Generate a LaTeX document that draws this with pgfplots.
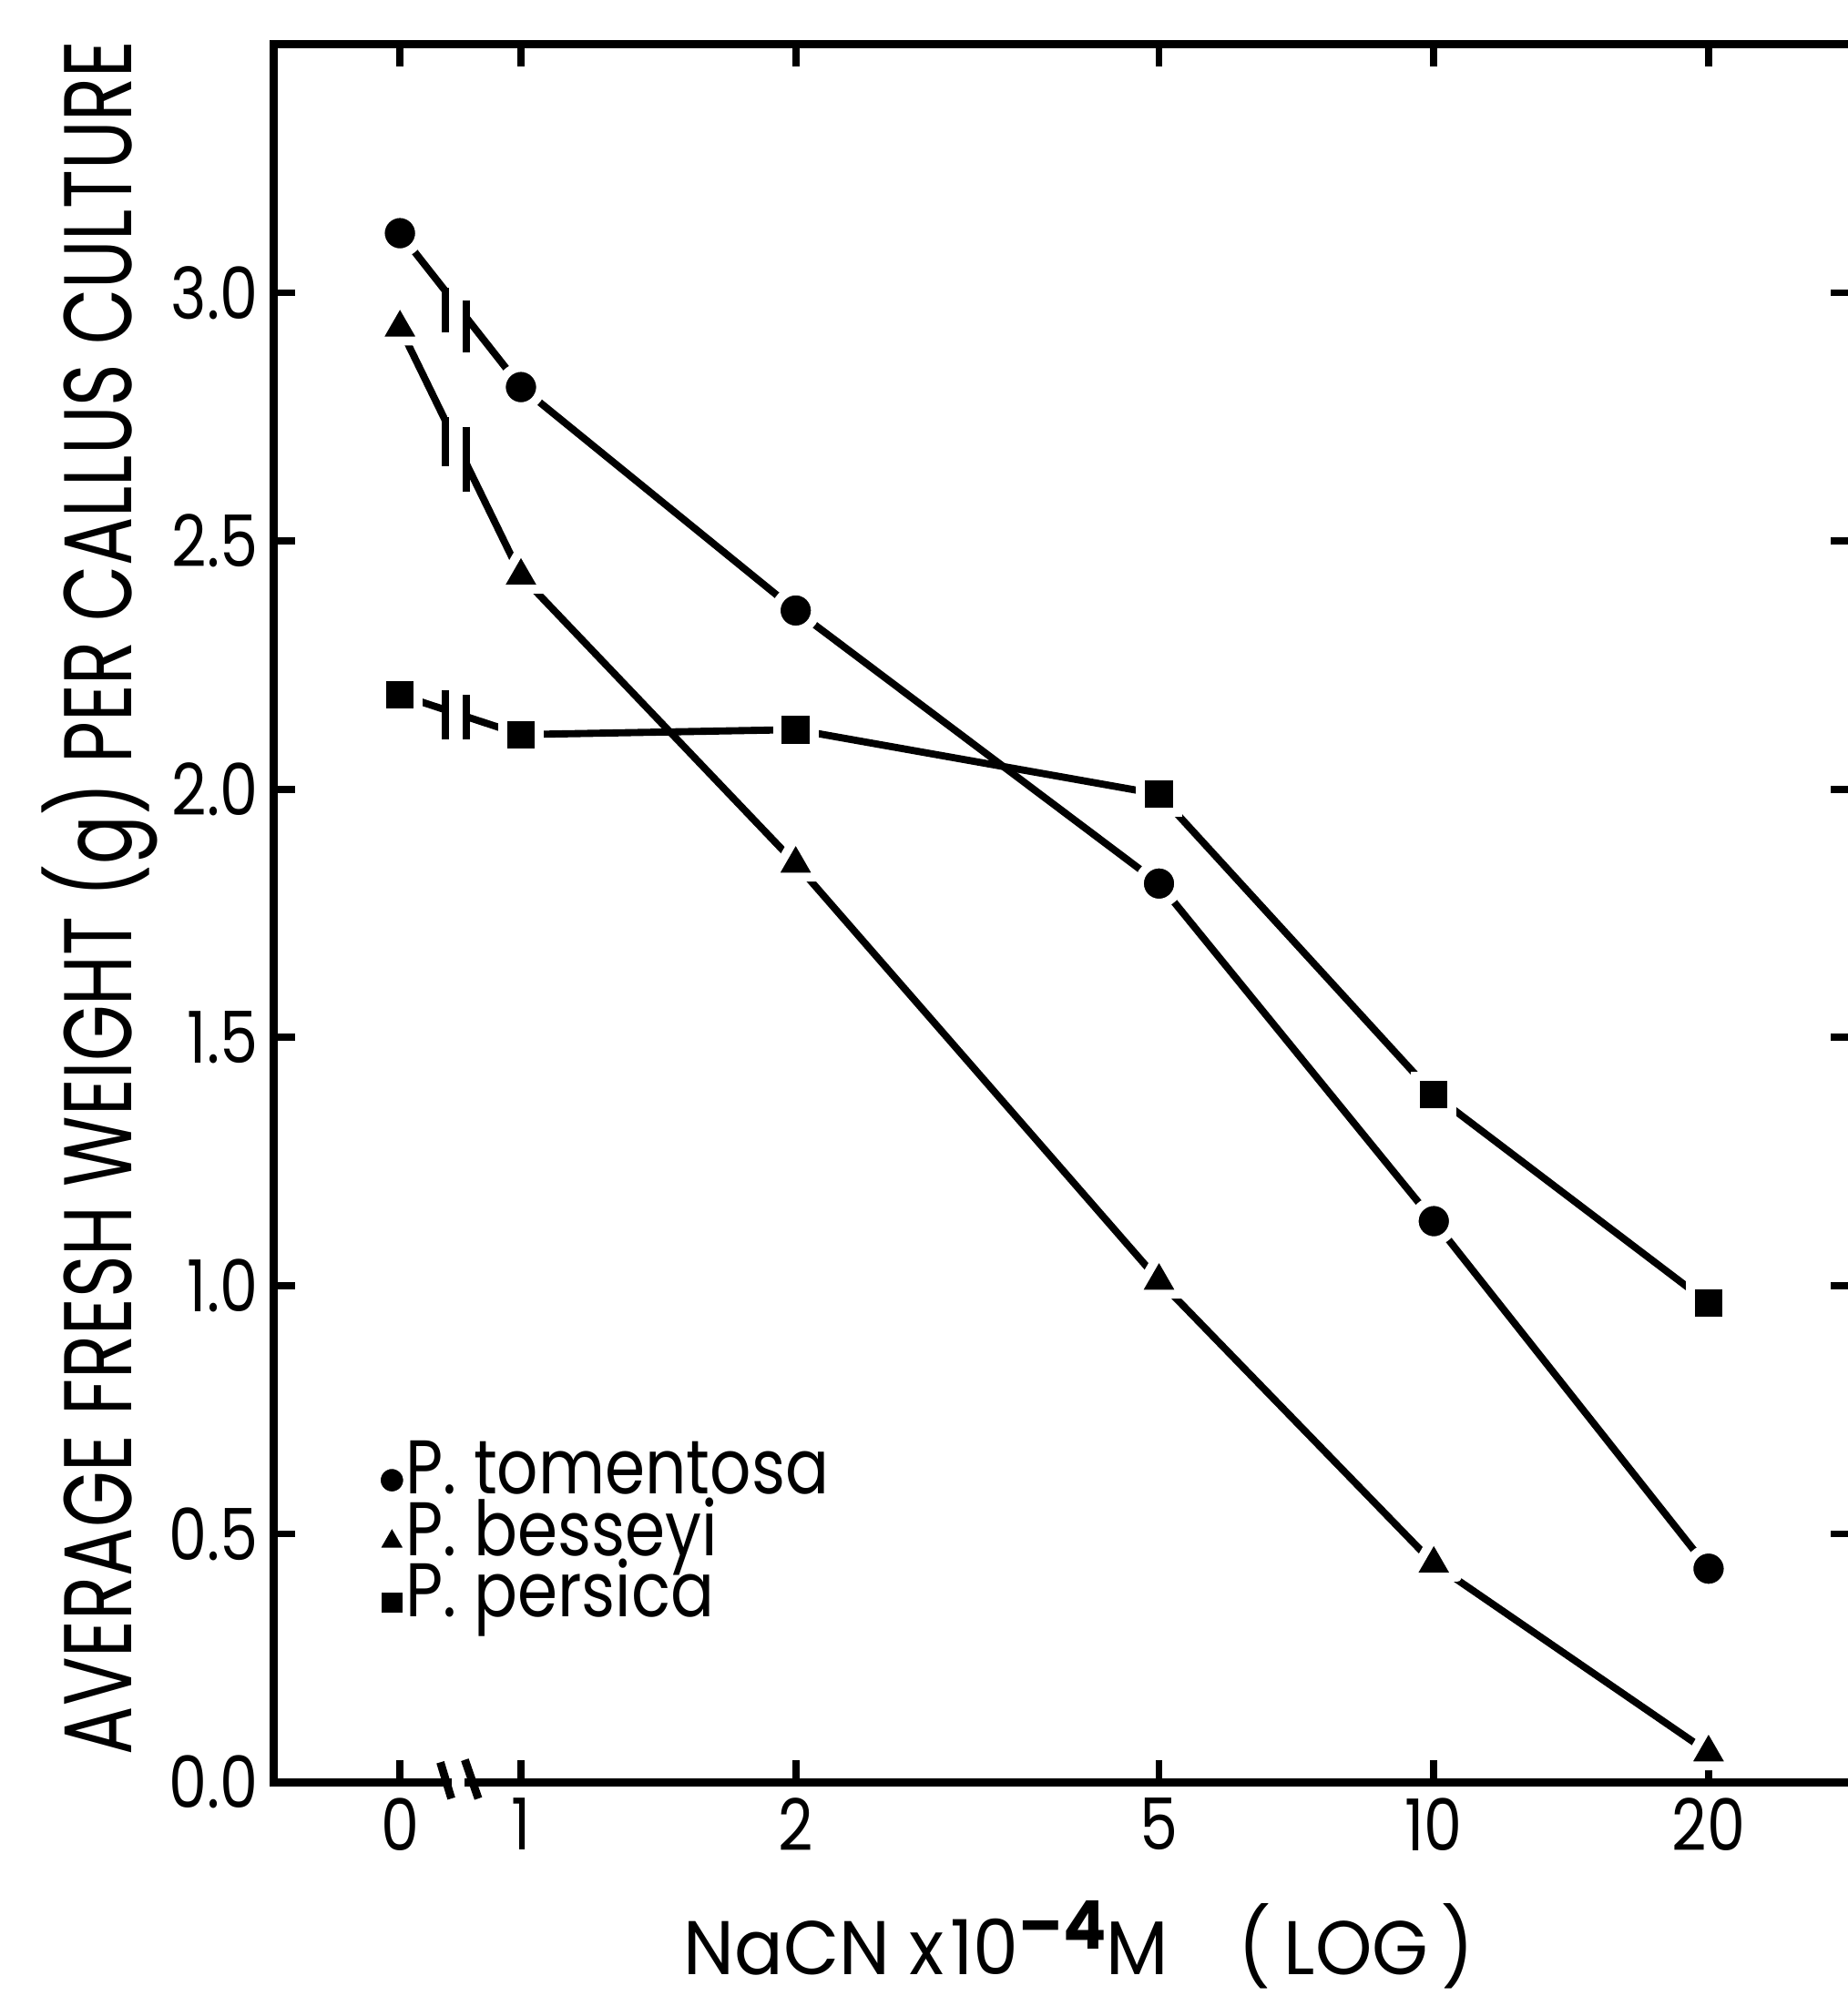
\documentclass[border=0pt]{standalone}
\usepackage{pgfplots}
\pgfplotsset{compat=1.18}
\usepackage{fontspec}
\setmainfont{Poppins}[FakeStretch=0.85]
\newfontfamily\labfont{Poppins}[FakeStretch=0.75]
\newfontfamily\xlfont{Poppins}[FakeStretch=0.95]

\begin{document}
\begin{tikzpicture}
\begin{axis}[
  at={(2.15cm,1.68cm)}, anchor=south west,
  scale only axis, width=12.40cm, height=13.65cm,
  xmode=log, xmin=0.536, xmax=28.76,
  ymin=0, ymax=3.5,
  xtick={0.737,1,2,5,10,20}, xticklabels={0,1,2,5,10,20},
  minor xtick={},
  ytick={0,0.5,1,1.5,2,2.5,3},
  y tick label style={/pgf/number format/fixed,
    /pgf/number format/fixed zerofill,
    /pgf/number format/precision=1,
    /pgf/number format/assume math mode=true},
  tick label style={font=\fontsize{16}{19}\selectfont},
  tick align=inside,
  major tick length=0.17cm,
  axis line style={line width=1.8pt},
  every tick/.style={line width=1.6pt, black},
  clip=false,
  xlabel={NaCN\hspace{0.15cm}x\hspace{0.05cm}10\raisebox{0.2cm}{\fontsize{15}{17}\selectfont\bfseries –4}M\hspace{0.55cm}(\hspace{0.1cm}LOG\hspace{0.1cm})},
  xlabel style={at={(axis description cs:0.510,-0.1105)}, anchor=base,
    inner sep=0pt, font=\xlfont\fontsize{17}{19}\selectfont},
  ylabel={AVERAGE FRESH WEIGHT (g) PER CALLUS CULTURE},
  ylabel style={at={(axis description cs:-0.11,0.509)}, anchor=center,
    font=\labfont\fontsize{21.5}{24}\selectfont},
  legend cell align=left,
  legend style={at={(rel axis cs:0.054,0.197)}, anchor=north west,
    draw=none, fill=none, font=\fontsize{17}{19}\selectfont,
    nodes={inner sep=0pt, text height=0.35cm, text depth=0.13cm},
    column sep=-0.04cm, row sep=0pt},
  legend image code/.code={\draw[#1, every mark/.append style={scale=0.8}]
    plot[only marks] coordinates {(0.1cm,0cm)};},
]
% P. tomentosa
\addplot[line width=1.6pt, mark=*, mark size=4.4pt,
  mark options={draw=white, fill=black, line width=2pt}]
  coordinates {(0.737,3.12) (1,2.81) (2,2.36) (5,1.81) (10,1.13) (20,0.43)};
% P. besseyi
\addplot[line width=1.6pt, mark=triangle*, mark size=6pt,
  mark options={draw=white, fill=black, line width=2pt, line join=round}]
  coordinates {(0.737,2.93) (1,2.43) (2,1.85) (5,1.01) (10,0.44) (20,0.06)};
% P. persica
\addplot[line width=1.6pt, mark=square*, mark size=4.1pt,
  mark options={draw=white, fill=black, line width=2pt}]
  coordinates {(0.737,2.19) (1,2.11) (2,2.12) (5,1.99) (10,1.385) (20,0.965)};
\legend{P. tomentosa, P. besseyi, P. persica}

% break between 0 and 1 on the curves
\fill[white] (axis cs:0.830,1.9) rectangle (axis cs:0.868,3.3);
\draw[line width=1.6pt] (axis cs:0.827,3.01) -- (axis cs:0.827,2.92)
  (axis cs:0.871,2.985) -- (axis cs:0.871,2.88)
  (axis cs:0.827,2.75) -- (axis cs:0.827,2.65)
  (axis cs:0.871,2.73) -- (axis cs:0.871,2.60)
  (axis cs:0.827,2.20) -- (axis cs:0.827,2.10)
  (axis cs:0.871,2.19) -- (axis cs:0.871,2.10);
% break on the x axis
\fill[white] (axis cs:0.839,-0.03) rectangle (axis cs:0.868,0.03);
\draw[line width=1.8pt] (axis cs:0.816,0.04) -- (axis cs:0.839,-0.033)
  (axis cs:0.868,0.045) -- (axis cs:0.898,-0.033);
\end{axis}
\pgfresetboundingbox
\useasboundingbox (0,0) rectangle (14.51,15.68);
\end{tikzpicture}
\end{document}
